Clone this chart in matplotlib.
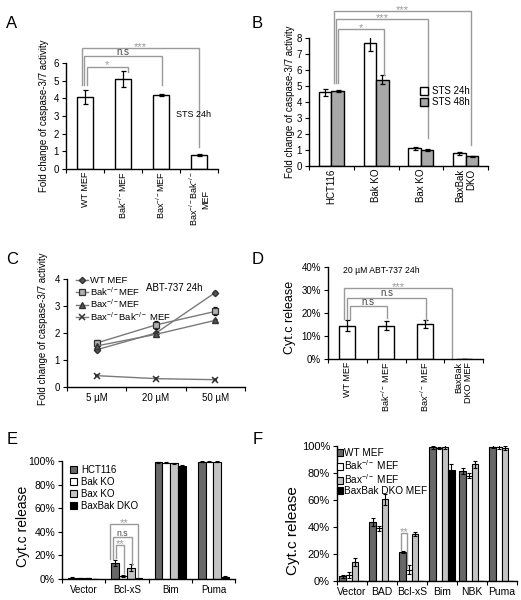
import matplotlib
matplotlib.use("Agg")
import matplotlib.pyplot as plt
import numpy as np
from matplotlib.ticker import PercentFormatter
from matplotlib.lines import Line2D
from matplotlib.transforms import offset_copy

plt.rcParams['font.family'] = ['Liberation Sans', 'DejaVu Sans']
plt.rcParams['mathtext.fontset'] = 'custom'
plt.rcParams['mathtext.rm'] = 'Liberation Sans'
plt.rcParams['mathtext.it'] = 'Liberation Sans:italic'
plt.rcParams['mathtext.bf'] = 'Liberation Sans:bold'
plt.rcParams['axes.linewidth'] = 1.0

# ---------------- data ----------------
# Panel A
a_labels = ["WT MEF", r"Bak$^{-/-}$MEF", r"Bax$^{-/-}$MEF", "Bax$^{-/-}$Bak$^{-/-}$\nMEF"]
a_vals = [4.1, 5.1, 4.2, 0.8]
a_err = [0.4, 0.45, 0.05, 0.05]

# Panel B
b_labels = ["HCT116", "Bak KO", "Bax KO", "BaxBak\nDKO"]
b_24 = [4.6, 7.7, 1.1, 0.8]
b_24_err = [0.2, 0.5, 0.1, 0.1]
b_48 = [4.7, 5.4, 1.0, 0.6]
b_48_err = [0.07, 0.3, 0.07, 0.05]
b_series = ["STS 24h", "STS 48h"]

# Panel C
c_doses = ["5 µM", "20 µM", "50 µM"]
c_names = ["WT MEF", r"Bak$^{-/-}$MEF", r"Bax$^{-/-}$MEF", r"Bax$^{-/-}$Bak$^{-/-}$ MEF"]
c_wt = [1.38, 2.0, 3.5]
c_wt_err = [0.04, 0.04, 0.04]
c_bak = [1.63, 2.3, 2.8]
c_bak_err = [0.1, 0.15, 0.15]
c_bax = [1.52, 1.95, 2.47]
c_bax_err = [0.04, 0.04, 0.04]
c_dko = [0.42, 0.31, 0.27]
c_dko_err = [0.02, 0.02, 0.02]

# Panel D
d_labels = ["WT MEF", r"Bak$^{-/-}$ MEF", r"Bax$^{-/-}$ MEF", "BaxBak\nDKO MEF"]
d_vals = [0.145, 0.145, 0.152, 0.0]
d_err = [0.025, 0.02, 0.018, 0.0]

# Panel E
e_groups = ["Vector", "Bcl-xS", "Bim", "Puma"]
e_names = ["HCT116", "Bak KO", "Bax KO", "BaxBak DKO"]
e_hct = [0.010, 0.132, 0.990, 0.993]
e_bak = [0.008, 0.028, 0.985, 0.993]
e_bax = [0.008, 0.095, 0.980, 0.993]
e_dko = [0.003, 0.005, 0.960, 0.020]
e_hct_err = [0.003, 0.025, 0.005, 0.004]
e_bak_err = [0.002, 0.010, 0.006, 0.003]
e_bax_err = [0.002, 0.030, 0.005, 0.003]
e_dko_err = [0.001, 0.002, 0.005, 0.005]

# Panel F
f_groups = ["Vector", "BAD", "Bcl-xS", "Bim", "NBK", "Puma"]
f_names = ["WT MEF", r"Bak$^{-/-}$ MEF", r"Bax$^{-/-}$ MEF", "BaxBak DKO MEF"]
f_wt = [0.035, 0.44, 0.215, 0.990, 0.815, 0.995]
f_bak = [0.045, 0.39, 0.085, 0.985, 0.780, 0.990]
f_bax = [0.140, 0.605, 0.348, 0.995, 0.865, 0.985]
f_dko = [0.0, 0.0, 0.003, 0.825, 0.0, 0.0]
f_wt_err = [0.010, 0.030, 0.005, 0.010, 0.025, 0.010]
f_bak_err = [0.020, 0.020, 0.030, 0.010, 0.020, 0.015]
f_bax_err = [0.030, 0.040, 0.015, 0.020, 0.025, 0.015]
f_dko_err = [0.0, 0.0, 0.0, 0.040, 0.0, 0.0]

# ---------------- helpers ----------------
W, H = 521, 600
fig = plt.figure(figsize=(W / 100, H / 100), dpi=100)

GRAY = '#9a9a9a'
DARK = '#686868'
LIGHT = '#c4c4c4'
MID = '#a8a8a8'


def P(x, y):
    return (x / W, 1 - y / H)


def axes_px(x0, y0, x1, y1):
    return fig.add_axes([x0 / W, 1 - y1 / H, (x1 - x0) / W, (y1 - y0) / H])


def style(ax, fs=7):
    for s in ['top', 'right']:
        ax.spines[s].set_visible(False)
    ax.tick_params(axis='both', direction='out', length=3, width=0.8, pad=2, labelsize=fs)


def cat_ticks(ax, n, labels, rot=0, fs=7, ma='center', pad=2):
    ax.set_xlim(-0.5, n - 0.5)
    ax.set_xticks(range(n))
    ax.set_xticklabels(labels, rotation=rot, fontsize=fs, ha='center', va='top',
                       multialignment=ma)
    ax.set_xticks(np.arange(-0.5, n), minor=True)
    ax.tick_params(axis='x', which='major', length=0, pad=pad)
    ax.tick_params(axis='x', which='minor', length=3, width=0.8, direction='out')


def bracket(ax, x1, x2, y, y1b, y2b, text, fs=7, tx=None):
    ax.plot([x1, x1, x2, x2], [y1b, y, y, y2b], color=GRAY, lw=1.0, clip_on=False,
            solid_joinstyle='miter')
    xt = (x1 + x2) / 2 if tx is None else tx
    if text.startswith('*'):
        tr = offset_copy(ax.transData, fig=fig, x=0, y=-2.0, units='dots')
        ax.text(xt, y, text, ha='center', va='baseline', color=GRAY, fontsize=fs + 1,
                clip_on=False, transform=tr)
    else:
        tr = offset_copy(ax.transData, fig=fig, x=0, y=1.3, units='dots')
        ax.text(xt, y, text, ha='center', va='baseline', color='#444444', fontsize=fs,
                clip_on=False, transform=tr)


EK = dict(ecolor='black', elinewidth=0.9, capsize=1.8, capthick=0.9)

# ---------------- Panel A ----------------
ax = axes_px(66, 63, 218, 169)
style(ax)
xa = np.arange(len(a_vals))
ax.bar(xa, a_vals, width=0.42, color='white', edgecolor='black', lw=1.0,
       yerr=a_err, error_kw=EK)
ax.set_ylim(0, 6)
ax.set_yticks(range(0, 7))
cat_ticks(ax, 4, a_labels, rot=90, fs=6.5, ma='center')
bracket(ax, 0.05, 1.13, 5.8, 4.75, 5.5, "*")
bracket(ax, -0.03, 2.03, 6.4, 4.75, 4.75, "n.s")
bracket(ax, -0.08, 3.0, 6.85, 4.75, 1.26, "***")
ax.text(3.0 - 0.15, 3.1, "STS 24h", ha='center', va='center', fontsize=6.5)
fig.text(*P(44, 116), "Fold change of caspase-3/7 activity", rotation=90,
         ha='center', va='center', fontsize=7)
fig.text(*P(12, 24), "A", ha='center', va='center', fontsize=12)

# ---------------- Panel B ----------------
ax = axes_px(309, 38, 488, 166)
style(ax)
xb = np.arange(len(b_24))
ax.bar(xb - 0.14, b_24, width=0.28, color='white', edgecolor='black', lw=1.0,
       yerr=b_24_err, error_kw=EK, label=b_series[0])
ax.bar(xb + 0.14, b_48, width=0.28, color=MID, edgecolor='black', lw=1.0,
       yerr=b_48_err, error_kw=EK, label=b_series[1])
ax.set_ylim(0, 8)
ax.set_yticks(range(0, 9))
cat_ticks(ax, 4, b_labels, rot=90, fs=7, ma='right')
bracket(ax, 0.15, 1.18, 8.54, 5.2, 5.7, "*")
bracket(ax, 0.10, 2.16, 9.2, 5.2, 1.73, "***")
bracket(ax, 0.06, 3.13, 9.7, 5.2, 1.3, "***")
ax.legend(loc='upper left', bbox_to_anchor=P(420, 86), bbox_transform=fig.transFigure,
          frameon=False, fontsize=7, borderpad=0, borderaxespad=0, handlelength=0.85,
          handleheight=0.85, handletextpad=0.4, labelspacing=0.15)
fig.text(*P(290, 102), "Fold change of caspase-3/7 activity", rotation=90,
         ha='center', va='center', fontsize=7)
fig.text(*P(257, 24), "B", ha='center', va='center', fontsize=12)

# ---------------- Panel C ----------------
ax = axes_px(67, 279, 245, 387)
style(ax)
xc = np.arange(len(c_doses))
LC = '#7a7a7a'
markers_c = [
    dict(marker='D', ms=3.2, mfc='#555555', mec='#333333'),
    dict(marker='s', ms=4.0, mfc='#b0b0b0', mec='#333333', mew=0.9),
    dict(marker='^', ms=4.0, mfc='#555555', mec='#333333'),
    dict(marker='x', ms=4.0, mec='#333333', mew=1.1),
]
handles_c = []
for vals, err, mk, name in zip([c_wt, c_bak, c_bax, c_dko],
                               [c_wt_err, c_bak_err, c_bax_err, c_dko_err],
                               markers_c, c_names):
    ax.errorbar(xc, vals, yerr=err, color=LC, lw=1.0, ecolor='black', elinewidth=0.8,
                capsize=1.5, **mk)
    handles_c.append(Line2D([], [], color=LC, lw=1.0, label=name, **mk))
ax.set_ylim(0, 4)
ax.set_yticks(range(0, 5))
ax.set_xticks(xc)
ax.set_xticklabels(c_doses, fontsize=7)
ax.set_xticks(np.arange(-0.5, 3), minor=True)
ax.tick_params(axis='x', which='major', length=0, pad=4)
ax.tick_params(axis='x', which='minor', length=3, width=0.8)
ax.set_xlim(-0.5, 2.5)
ax.legend(handles=handles_c, loc='upper left', bbox_to_anchor=P(76, 276),
          bbox_transform=fig.transFigure, frameon=False, fontsize=6.8, borderpad=0,
          borderaxespad=0, handlelength=1.3, handletextpad=0.2, labelspacing=0.0)
ax.text(1.3, 3.65, "ABT-737 24h", ha='center', va='center', fontsize=7)
fig.text(*P(43, 329), "Fold change of caspase-3/7 activity", rotation=90,
         ha='center', va='center', fontsize=7)
fig.text(*P(12, 259), "C", ha='center', va='center', fontsize=12)

# ---------------- Panel D ----------------
ax = axes_px(328, 267, 483, 359)
style(ax)
xd = np.arange(len(d_vals))
ax.bar(xd, d_vals, width=0.41, color='white', edgecolor='black', lw=1.0,
       yerr=d_err, error_kw=EK)
ax.set_ylim(0, 0.4)
ax.set_yticks(np.arange(0, 0.41, 0.1))
ax.yaxis.set_major_formatter(PercentFormatter(1.0, decimals=0))
cat_ticks(ax, 4, d_labels, rot=90, fs=6.5, ma='right')
bracket(ax, 0.07, 1.01, 0.23, 0.175, 0.178, "n.s")
bracket(ax, 0.0, 2.02, 0.267, 0.175, 0.17, "n.s")
bracket(ax, -0.08, 2.71, 0.307, 0.175, 0.0, "***")
ax.text(0.87, 0.383, "20 µM ABT-737 24h", ha='center', va='center', fontsize=6.2)
fig.text(*P(290.5, 317), "Cyt.c release", rotation=90, ha='center', va='center', fontsize=9)
fig.text(*P(258, 260), "D", ha='center', va='center', fontsize=12)

# ---------------- Panel E ----------------
ax = axes_px(62, 461, 235, 579)
style(ax, fs=7.5)
xe = np.arange(len(e_groups))
bw = 0.18
e_cols = [DARK, 'white', LIGHT, 'black']
for i, (vals, err, col, name) in enumerate(zip([e_hct, e_bak, e_bax, e_dko],
                                              [e_hct_err, e_bak_err, e_bax_err, e_dko_err],
                                              e_cols, e_names)):
    ax.bar(xe + (i - 1.5) * bw, vals, width=bw, color=col, edgecolor='black', lw=0.8,
           yerr=err, error_kw=dict(ecolor='black', elinewidth=0.8, capsize=1.2, capthick=0.8),
           label=name)
ax.set_ylim(0, 1.0)
ax.set_yticks(np.arange(0, 1.01, 0.2))
ax.yaxis.set_major_formatter(PercentFormatter(1.0, decimals=0))
cat_ticks(ax, 4, e_groups, rot=0, fs=7, pad=4)
bracket(ax, 0.74, 0.94, 0.285, 0.18, 0.05, "**")
bracket(ax, 0.69, 1.11, 0.355, 0.17, 0.12, "n.s", fs=6.2)
bracket(ax, 0.61, 1.25, 0.465, 0.17, 0.02, "**")
ax.legend(loc='upper left', bbox_to_anchor=P(70, 465), bbox_transform=fig.transFigure,
          frameon=False, fontsize=7, borderpad=0, borderaxespad=0, handlelength=0.75,
          handleheight=0.75, handletextpad=0.4, labelspacing=0.2)
fig.text(*P(23.5, 526), "Cyt.c release", rotation=90, ha='center', va='center', fontsize=10)
fig.text(*P(12, 440), "E", ha='center', va='center', fontsize=12)

# ---------------- Panel F ----------------
ax = axes_px(337, 446, 517, 581)
style(ax, fs=8)
xf = np.arange(len(f_groups))
bw = 0.21
f_cols = [DARK, 'white', LIGHT, 'black']
for i, (vals, err, col, name) in enumerate(zip([f_wt, f_bak, f_bax, f_dko],
                                              [f_wt_err, f_bak_err, f_bax_err, f_dko_err],
                                              f_cols, f_names)):
    ax.bar(xf + (i - 1.5) * bw, vals, width=bw, color=col, edgecolor='black', lw=0.8,
           yerr=err, error_kw=dict(ecolor='black', elinewidth=0.8, capsize=1.2, capthick=0.8),
           label=name)
ax.set_ylim(0, 1.0)
ax.set_yticks(np.arange(0, 1.01, 0.2))
ax.yaxis.set_major_formatter(PercentFormatter(1.0, decimals=0))
cat_ticks(ax, 6, f_groups, rot=0, fs=7.5, pad=4)
bracket(ax, 1.62, 1.84, 0.358, 0.23, 0.10, "**")
ax.legend(loc='upper left', bbox_to_anchor=P(337, 448), bbox_transform=fig.transFigure,
          frameon=False, fontsize=7.2, borderpad=0, borderaxespad=0, handlelength=0.6,
          handleheight=0.7, handletextpad=0.1, labelspacing=0.0)
fig.text(*P(293.5, 531), "Cyt.c release", rotation=90, ha='center', va='center', fontsize=11)
fig.text(*P(258, 440), "F", ha='center', va='center', fontsize=12)

fig.savefig("out.png", dpi=100)
